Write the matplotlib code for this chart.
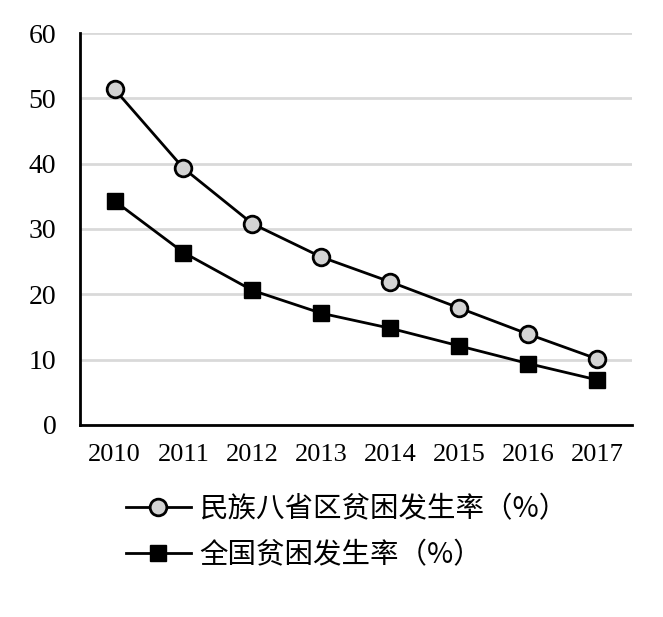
import matplotlib
matplotlib.use("Agg")
import matplotlib.pyplot as plt

years = ["2010", "2011", "2012", "2013", "2014", "2015", "2016", "2017"]
minzu = [51.4, 39.3, 30.8, 25.7, 21.9, 17.9, 13.9, 10.1]
quanguo = [34.3, 26.4, 20.6, 17.1, 14.8, 12.1, 9.4, 6.9]
labels = ["民族八省区贫困发生率（%）", "全国贫困发生率（%）"]
yticks = [0, 10, 20, 30, 40, 50, 60]

fig = plt.figure(figsize=(6.63, 6.17), dpi=100)
ax = fig.add_axes([0.1207, 0.3112, 0.8323, 0.6353])
x = list(range(len(years)))
l1, = ax.plot(x, minzu, color="black", lw=2, marker="o", ms=12,
              mfc="#d3d3d3", mec="black", mew=2, zorder=3)
l2, = ax.plot(x, quanguo, color="black", lw=2, marker="s", ms=12,
              mfc="black", mec="black", zorder=3)
ax.set_xlim(-0.5, 7.5)
ax.set_ylim(0, 60)
ax.set_yticks(yticks)
ax.set_yticklabels([str(v) for v in yticks])
ax.set_xticks(x)
ax.set_xticklabels(years)
ax.yaxis.grid(True, color="#d9d9d9", lw=2)
ax.set_axisbelow(True)
for s in ["top", "right"]:
    ax.spines[s].set_visible(False)
for s in ["left", "bottom"]:
    ax.spines[s].set_linewidth(2)
ax.tick_params(length=0)
ax.tick_params(axis="y", pad=17)
ax.tick_params(axis="x", pad=14)
for t in ax.get_yticklabels():
    t.set_fontfamily("Liberation Serif")
    t.set_fontsize(20)
for t in ax.get_xticklabels():
    t.set_fontfamily("Liberation Serif")
    t.set_fontsize(19)

fig.legend([l1, l2], labels, loc="upper left", bbox_to_anchor=(0.168, 0.222),
           frameon=False, prop={"family": ["Noto Sans CJK SC", "DejaVu Sans"], "size": 20.5},
           handlelength=2.3, handletextpad=0.3, labelspacing=0.55, borderpad=0)
fig.savefig("out.png", dpi=100)
